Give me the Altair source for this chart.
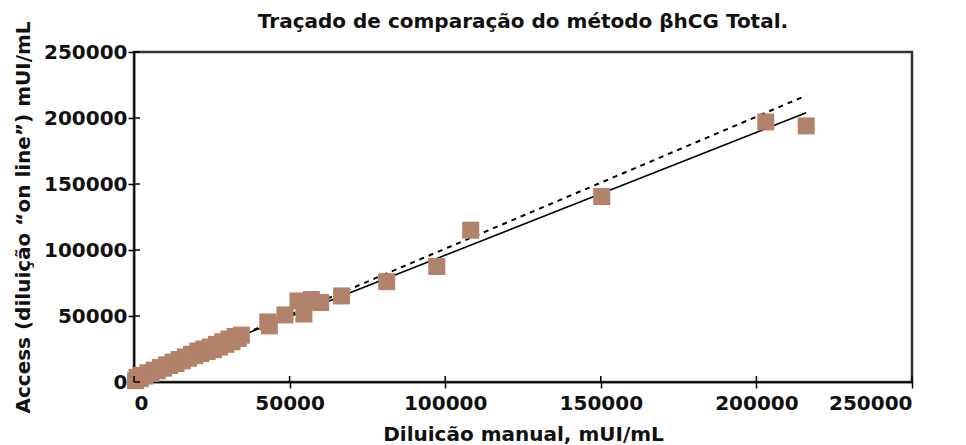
import altair as alt
import pandas as pd

# Data
manual_x = [500, 1000, 2000, 2500, 3500, 4500, 5500, 6500, 7500, 8500, 9500, 10500, 11500,
            12500, 13500, 14500, 15500, 16500, 17500, 18500, 19500, 20500, 21500, 22500,
            23500, 24500, 25500, 26500, 27500, 28500, 29500, 30500, 31500, 32500, 33500,
            34500, 43000, 43500, 48500, 52700, 54600, 57000, 60000, 66700, 81200, 97300,
            108200, 150300, 203000, 216000]
access_y = [1000, 3500, 2500, 5000, 4500, 7000, 6500, 9000, 8500, 11000, 10500, 13000, 12500,
            15000, 14000, 17000, 16000, 19000, 18000, 21000, 20000, 23500, 21500, 25000,
            23000, 26500, 24500, 28500, 26500, 30500, 28500, 32500, 30500, 34500, 33000,
            35500, 45500, 42500, 50800, 61400, 51500, 62500, 60200, 65200, 76000, 87500,
            115000, 140500, 197000, 194000]

fit_x = [0, 216000]
fit_y = [3000, 204000]
ident_x = [0, 216000]
ident_y = [1000, 217000]

tick_values = [0, 50000, 100000, 150000, 200000, 250000]

FONT = "DejaVu Sans"
X_TITLE = "Diluicão manual, mUI/mL"
Y_TITLE = "Access (diluição \u201con line\u201d) mUI/mL"

pts = pd.DataFrame({"x": manual_x, "y": access_y})
fit = pd.DataFrame({"x": fit_x, "y": fit_y})
ident = pd.DataFrame({"x": ident_x, "y": ident_y})
ticks = pd.DataFrame({"x": tick_values, "y": tick_values})

xs = alt.Scale(domain=[0, 250000], nice=False, zero=True)
ys = alt.Scale(domain=[0, 250000], nice=False, zero=True)

xaxis = alt.Axis(values=tick_values, format="d", title=X_TITLE, grid=False,
                 tickSize=6, labelPadding=5, titlePadding=11, titleFontSize=20)
yaxis = alt.Axis(values=tick_values, format="d", title=Y_TITLE, grid=False,
                 tickSize=6, labelPadding=1, titlePadding=10, titleFontSize=20)

X = lambda: alt.X("x:Q", scale=xs, axis=xaxis)
Y = lambda: alt.Y("y:Q", scale=ys, axis=yaxis)

ident_line = alt.Chart(ident).mark_line(color="black", strokeWidth=2, strokeDash=[5, 5]).encode(
    x=X(), y=Y())
fit_line = alt.Chart(fit).mark_line(color="black", strokeWidth=1.6).encode(x=X(), y=Y())
points = alt.Chart(pts).mark_square(size=289, color="#b3826a", opacity=1).encode(x=X(), y=Y())

xticks_in = alt.Chart(ticks).mark_rule(color="black", strokeWidth=1.5).encode(
    x=X(), y=alt.value(330), y2=alt.value(324))
yticks_in = alt.Chart(ticks).mark_rule(color="black", strokeWidth=1.5).encode(
    y=Y(), x=alt.value(0), x2=alt.value(6))

chart = alt.layer(ident_line, fit_line, points, xticks_in, yticks_in).properties(
    width=778,
    height=330,
    title=alt.TitleParams("Traçado de comparação do método βhCG Total.", anchor="middle",
                          font=FONT, fontSize=20, fontWeight="bold", color="#111",
                          offset=10, dy=21),
    autosize=alt.AutoSizeParams(type="none"),
    padding={"left": 126, "top": 44, "right": 46, "bottom": 66},
).configure_view(
    stroke="#333", strokeWidth=2.5
).configure_axis(
    labelFont=FONT, labelFontSize=20, labelFontWeight="bold", labelColor="#111",
    titleFont=FONT, titleFontWeight="bold", titleColor="#111",
    domainColor="black", domainWidth=1.5, tickColor="black", tickWidth=1.5,
)

chart.save("out.html", embed_options={"renderer": "svg", "actions": False})
